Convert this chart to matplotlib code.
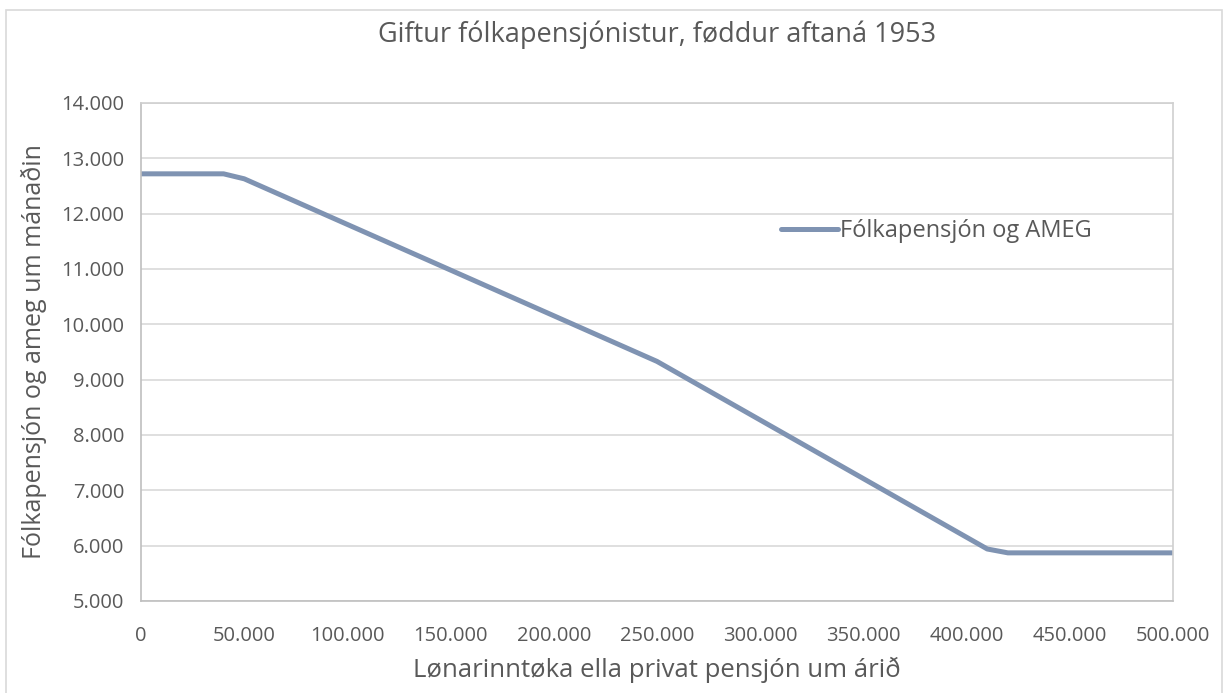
import matplotlib
matplotlib.use('Agg')
import matplotlib.pyplot as plt
from matplotlib.ticker import FuncFormatter, MultipleLocator
from matplotlib.patches import Rectangle

plt.rcParams['font.family'] = ['Open Sans', 'DejaVu Sans']

# income per year (x) and pension + AMEG per month (y)
income = [0, 40000, 50000, 240000, 250000, 410000, 420000, 500000]
pension = [12720, 12720, 12630, 9495, 9330, 5940, 5870, 5870]

title = 'Giftur fólkapensjónistur, føddur aftaná 1953'
series_name = 'Fólkapensjón og AMEG'
x_label = 'Lønarinntøka ella privat pensjón um árið'
y_label = 'Fólkapensjón og ameg um mánaðin'

LINE_COLOR = '#7F93B2'
TEXT_COLOR = '#595959'
GRID_COLOR = '#D9D9D9'


def dot_thousands(v, pos):
    return f'{int(round(v)):,}'.replace(',', '.')


fig = plt.figure(figsize=(12.24, 6.93), dpi=100)
fig.patches.append(Rectangle((6 / 1224, -0.05), 1 - 8 / 1224, 1.05 - 10 / 693,
                             transform=fig.transFigure, fill=False,
                             edgecolor='#D9D9D9', linewidth=1.2))

ax = fig.add_axes([141 / 1224, 1 - 601 / 693, (1173 - 141) / 1224, (601 - 103) / 693])
ax.plot(income, pension, color=LINE_COLOR, linewidth=3.6, label=series_name,
        solid_capstyle='round', solid_joinstyle='round')

ax.set_xlim(0, 500000)
ax.set_ylim(5000, 14000)
ax.xaxis.set_major_locator(MultipleLocator(50000))
ax.yaxis.set_major_locator(MultipleLocator(1000))
ax.xaxis.set_major_formatter(FuncFormatter(dot_thousands))
ax.yaxis.set_major_formatter(FuncFormatter(dot_thousands))

ax.grid(axis='y', color=GRID_COLOR, linewidth=1.2)
ax.set_axisbelow(True)
for s in ax.spines.values():
    s.set_color('#D0D0D0')
    s.set_linewidth(1.2)
ax.spines['left'].set_color('#BFBFBF')
ax.spines['bottom'].set_color('#BFBFBF')

ax.tick_params(length=0, labelsize=14.5, labelcolor=TEXT_COLOR)
ax.tick_params(axis='x', pad=18)
ax.tick_params(axis='y', pad=12)

ax.set_title(title, fontsize=19.5, color=TEXT_COLOR, pad=44)
ax.set_xlabel(x_label, fontsize=18.5, color=TEXT_COLOR, labelpad=8)
ax.set_ylabel(y_label, fontsize=18, color=TEXT_COLOR, labelpad=10)

ax.legend(loc='center left', bbox_to_anchor=(0.6, 0.742), frameon=False,
          fontsize=17, labelcolor=TEXT_COLOR, handlelength=2.4, handletextpad=0.1)

fig.savefig('out.png', dpi=100)
